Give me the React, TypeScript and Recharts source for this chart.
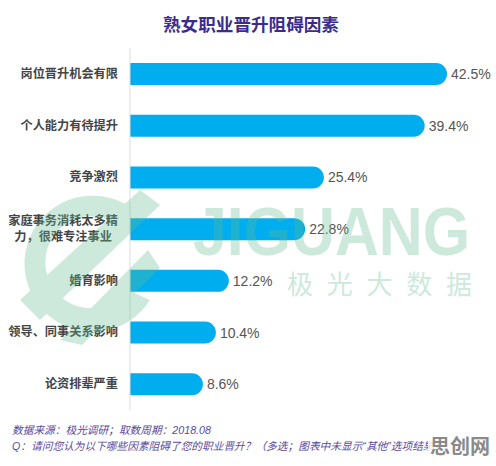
import React from 'react';
import { BarChart, Bar, XAxis, YAxis, LabelList } from 'recharts';

const categories = [
  '岗位晋升机会有限',
  '个人能力有待提升',
  '竞争激烈',
  '家庭事务消耗太多精\n力，很难专注事业',
  '婚育影响',
  '领导、同事关系影响',
  '论资排辈严重',
];
const values = [42.5, 39.4, 25.4, 22.8, 12.2, 10.4, 8.6];
const title = '熟女职业晋升阻碍因素';
const sourceNote = '数据来源：极光调研；取数周期：2018.08';
const questionNote = 'Q：请问您认为以下哪些因素阻碍了您的职业晋升？（多选；图表中未显示“其他”选项结果）';

const data = categories.map((name, i) => ({ name, value: values[i] }));

const FONT = '"Liberation Sans", Arial, "Noto Sans CJK SC", sans-serif';
const BAR_COLOR = '#00adef';
const CAP = 11;

const CategoryTick = (props: any) => {
  const { x, y, payload } = props;
  const fs = 12.2;
  const lines = String(payload.value).split('\n');
  if (lines.length === 1) {
    return (
      <text x={x} y={y} textAnchor="end" dominantBaseline="central" fontSize={fs} fontWeight="bold" fill="#444" fontFamily={FONT}>
        {lines[0]}
      </text>
    );
  }
  const maxLen = Math.max(...lines.map((l) => l.length));
  const cx = x - (maxLen * fs) / 2;
  const lh = 16.7;
  return (
    <g>
      {lines.map((l, i) => (
        <text key={i} x={cx} y={y + (i - (lines.length - 1) / 2) * lh} textAnchor="middle" dominantBaseline="central" fontSize={fs} fontWeight="bold" fill="#444" fontFamily={FONT}>
          {l}
        </text>
      ))}
    </g>
  );
};

const RoundBar = (props: any) => {
  const { x, y, width, height } = props;
  const r = height / 2;
  const w = width + CAP;
  const d = `M${x},${y} H${x + w - r} A${r},${r} 0 0 1 ${x + w - r},${y + height} H${x} Z`;
  return <path d={d} fill={BAR_COLOR} />;
};

const ValueLabel = (props: any) => {
  const { x, y, width, height, value } = props;
  return (
    <text x={x + width + CAP + 4} y={y + height / 2} dominantBaseline="central" fontSize={14} fill="#555" fontFamily={FONT}>
      {`${value}%`}
    </text>
  );
};

export default function App() {
  return (
    <div style={{ position: 'absolute', left: 0, top: 0, width: 496, height: 466, background: '#fff' }}>
      <BarChart
        width={496}
        height={466}
        data={data}
        layout="vertical"
        margin={{ top: 48, right: 6, bottom: 56, left: 0 }}
      >
        <XAxis type="number" domain={[0, 50]} hide />
        <YAxis
          type="category"
          dataKey="name"
          width={130}
          axisLine={{ stroke: '#dddddd' }}
          tickLine={false}
          tickSize={0}
          tickMargin={12}
          tick={<CategoryTick />}
          interval={0}
        />
        <Bar dataKey="value" barSize={22} shape={<RoundBar />} isAnimationActive={false}>
          <LabelList dataKey="value" content={<ValueLabel />} />
        </Bar>
      </BarChart>
      <svg width={496} height={466} style={{ position: 'absolute', left: 0, top: 0, pointerEvents: 'none' }}>
        <text x={251} y={25} textAnchor="middle" dominantBaseline="central" fontSize={17.6} fontWeight="bold" fill="#3b2c8c" fontFamily={FONT}>
          {title}
        </text>
        <g opacity={0.32} fill="#62be92">
          <path d="M 140 215 A 68 68 0 1 0 150 300 L 128 290 A 46 46 0 1 1 122 228 Z" />
          <path d="M 20 300 L 40 320 L 160 205 L 140 190 Z" />
          <path d="M 60 340 L 82 345 L 160 268 L 148 250 Z" />
          <text x={193} y={255} fontSize={68} fontWeight="bold" textLength={277} lengthAdjust="spacingAndGlyphs" fontFamily={FONT}>
            JIGUANG
          </text>
          <text x={287} y={294} fontSize={26} textLength={185} lengthAdjust="spacing" fontFamily={FONT}>
            极光大数据
          </text>
        </g>
        <text x={12} y={430} dominantBaseline="central" fontSize={10.7} fontStyle="italic" fill="#5b4a9e" fontFamily={FONT}>
          {sourceNote}
        </text>
        <text x={12} y={446} dominantBaseline="central" fontSize={10.7} fontStyle="italic" fill="#5b4a9e" fontFamily={FONT}>
          {questionNote}
        </text>
        <rect x={428} y={435} width={66} height={24} fill="#ffffff" opacity={0.85} />
        <text x={430} y={447} dominantBaseline="central" fontSize={20} fontWeight="bold" fill="#8a8a8a" fontFamily={FONT}>
          思创网
        </text>
      </svg>
    </div>
  );
}
